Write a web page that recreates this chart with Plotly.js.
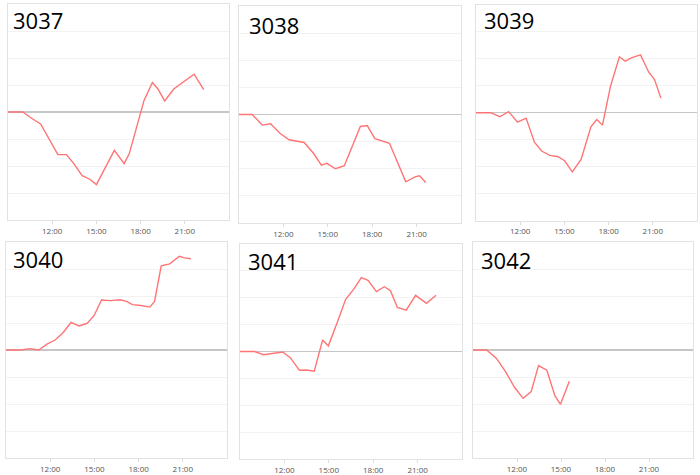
<!DOCTYPE html>
<html>
<head>
<meta charset="utf-8">
<script src="https://cdn.plot.ly/plotly-3.0.1.min.js"></script>
<style>
html,body{margin:0;padding:0;background:#fff;}
#chart{width:700px;height:475px;}
</style>
</head>
<body>
<div id="chart"></div>
<script>
// Panel names
const panelNames = ["3037", "3038", "3039", "3040", "3041", "3042"];

// Time of day (HH:MM) and values for each panel
const t3037 = ["09:00","10:00","10:39","11:13","12:23","12:58","13:28","14:02","14:33","15:00","16:13","16:53","17:14","17:44","18:14","18:48","19:10","19:38","20:16","21:38","22:17"];
const v3037 = [0,0,-0.25,-0.44,-1.58,-1.58,-1.91,-2.36,-2.49,-2.69,-1.42,-1.91,-1.54,-0.56,0.43,1.09,0.86,0.41,0.86,1.40,0.83];

const t3038 = ["09:00","09:54","10:34","11:08","11:46","12:23","13:24","14:02","14:34","14:56","15:31","16:07","17:12","17:40","18:11","19:10","20:16","20:56","21:12","21:37"];
const v3038 = [0,0,-0.39,-0.34,-0.69,-0.93,-1.03,-1.43,-1.87,-1.80,-2.0,-1.89,-0.44,-0.41,-0.89,-1.06,-2.48,-2.29,-2.26,-2.51];

const t3039 = ["09:00","10:00","10:37","11:13","11:49","12:24","12:58","13:27","14:01","14:34","15:01","15:32","16:08","16:48","17:12","17:35","18:08","18:44","19:08","19:35","20:10","20:43","21:07","21:33"];
const v3039 = [0,0,-0.15,0.04,-0.35,-0.20,-1.09,-1.42,-1.58,-1.63,-1.78,-2.19,-1.73,-0.52,-0.25,-0.46,0.99,2.07,1.91,2.04,2.14,1.51,1.23,0.54];

const t3040 = ["09:00","10:00","10:37","11:13","11:47","12:20","12:53","13:25","13:57","14:31","14:59","15:29","16:05","16:45","17:11","17:35","18:09","18:46","19:05","19:32","20:07","20:46","21:07","21:33"];
const v3040 = [0,0,0.05,0,0.22,0.37,0.65,1.02,0.89,0.99,1.28,1.85,1.83,1.86,1.80,1.68,1.65,1.59,1.80,3.12,3.19,3.47,3.41,3.38];

const t3041 = ["09:00","09:59","10:35","11:53","12:24","13:01","13:30","14:01","14:35","14:58","15:35","16:08","16:42","17:12","17:39","18:13","18:45","19:10","19:38","20:14","20:52","21:36","22:15"];
const v3041 = [0,0,-0.12,-0.02,-0.23,-0.70,-0.69,-0.73,0.43,0.21,1.10,1.93,2.33,2.75,2.65,2.23,2.41,2.26,1.64,1.54,2.09,1.79,2.09];

const t3042 = ["09:00","09:56","10:36","11:13","11:49","12:25","12:58","13:28","14:02","14:35","14:58","15:34"];
const v3042 = [0,0,-0.31,-0.80,-1.37,-1.79,-1.54,-0.58,-0.75,-1.69,-2.01,-1.16];

// Tick labels
const tickTimes = ["12:00","15:00","18:00","21:00"];
const tickLabels = ["12:00","15:00","18:00","21:00"];

const allTimes = [t3037, t3038, t3039, t3040, t3041, t3042];
const allValues = [v3037, v3038, v3039, v3040, v3041, v3042];

const day = "2024-01-01 ";
const toDate = s => day + s + ":00";

// Layout geometry (px) of each panel's plot area: [left, right, top, bottom]
const W = 700, H = 475;
const boxes = [
  [8, 229, 4, 220],
  [239, 461, 6, 223],
  [476, 697, 4.7, 220.7],
  [6, 227, 242, 458],
  [240, 462, 244, 459],
  [473, 693, 242, 458]
];
const titlePos = [
  [11, 20], [246.5, 25], [481.5, 20.5],
  [11, 258.5], [246, 261], [479, 260]
];

const data = [];
const layout = {
  width: W, height: H,
  margin: {l: 0, r: 0, t: 0, b: 0},
  paper_bgcolor: "#ffffff",
  plot_bgcolor: "#ffffff",
  showlegend: false,
  font: {family: "Open Sans, Noto Sans, sans-serif", color: "#555"},
  annotations: []
};

for (let i = 0; i < 6; i++) {
  const n = i === 0 ? "" : String(i + 1);
  data.push({
    type: "scatter",
    mode: "lines",
    x: allTimes[i].map(toDate),
    y: allValues[i],
    xaxis: "x" + n,
    yaxis: "y" + n,
    line: {color: "#ff7474", width: 1.4},
    hoverinfo: "skip"
  });
  const b = boxes[i];
  layout["xaxis" + n] = {
    domain: [b[0] / W, b[1] / W],
    anchor: "y" + n,
    type: "date",
    range: [day + "09:00:00", "2024-01-02 00:00:00"],
    tickmode: "array",
    tickvals: tickTimes.map(toDate),
    ticktext: tickLabels,
    ticks: "outside",
    ticklen: 3,
    tickcolor: "#dcdcdc",
    tickfont: {size: 8, color: "#555", family: "Open Sans, sans-serif"},
    showgrid: false,
    zeroline: false,
    showline: true,
    mirror: true,
    linecolor: "#e2e2e2",
    linewidth: 1,
    fixedrange: true
  };
  layout["yaxis" + n] = {
    domain: [1 - b[3] / H, 1 - b[2] / H],
    anchor: "x" + n,
    range: [-4, 4],
    dtick: 1,
    tick0: 0,
    showticklabels: false,
    ticks: "",
    showgrid: true,
    gridcolor: "#f2f2f2",
    gridwidth: 1,
    zeroline: true,
    zerolinecolor: "#c6c6c6",
    zerolinewidth: 1.5,
    showline: true,
    mirror: true,
    linecolor: "#e2e2e2",
    linewidth: 1,
    fixedrange: true
  };
  layout.annotations.push({
    text: panelNames[i],
    xref: "paper", yref: "paper",
    x: titlePos[i][0] / W, y: 1 - titlePos[i][1] / H,
    xanchor: "left", yanchor: "middle",
    showarrow: false,
    font: {size: 22, color: "#000", family: "Open Sans, Noto Sans, sans-serif"}
  });
}

Plotly.newPlot("chart", data, layout, {displayModeBar: false, staticPlot: true});
</script>
</body>
</html>
